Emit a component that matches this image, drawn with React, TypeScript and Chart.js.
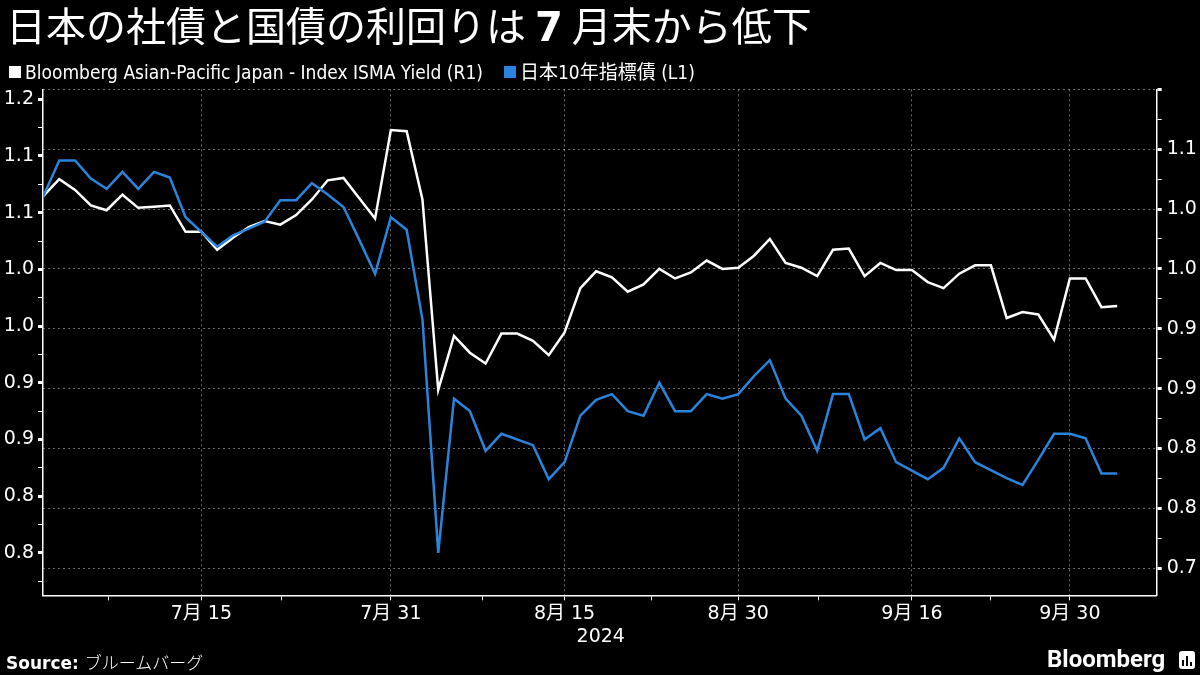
import React, { useEffect, useRef } from 'react';
import { Chart, registerables } from 'chart.js';

Chart.register(...registerables);

const FONT = "'DejaVu Sans', 'Noto Sans CJK JP', sans-serif";
const GRID = 'rgba(255,255,255,0.42)';
const BLUE = '#2b84dc';

// weekdays, 2024-07-01 .. 2024-10-03
const dates = [
    '7/1', '7/2', '7/3', '7/4', '7/5', '7/8', '7/9', '7/10', '7/11', '7/12',
    '7/15', '7/16', '7/17', '7/18', '7/19', '7/22', '7/23', '7/24', '7/25', '7/26',
    '7/29', '7/30', '7/31', '8/1', '8/2', '8/5', '8/6', '8/7', '8/8', '8/9',
    '8/12', '8/13', '8/14', '8/15', '8/16', '8/19', '8/20', '8/21', '8/22', '8/23',
    '8/26', '8/27', '8/28', '8/29', '8/30', '9/2', '9/3', '9/4', '9/5', '9/6',
    '9/9', '9/10', '9/11', '9/12', '9/13', '9/16', '9/17', '9/18', '9/19', '9/20',
    '9/23', '9/24', '9/25', '9/26', '9/27', '9/30', '10/1', '10/2', '10/3',
];

// Bloomberg Asian-Pacific Japan - Index ISMA Yield (R1)
const corpYield = [
    1.061, 1.075, 1.066, 1.053, 1.049, 1.062, 1.051, 1.052, 1.053, 1.031,
    1.031, 1.016, 1.026, 1.035, 1.040, 1.037, 1.045, 1.058, 1.074, 1.076,
    1.059, 1.042, 1.116, 1.115, 1.058, 0.899, 0.944, 0.930, 0.921, 0.946,
    0.946, 0.940, 0.928, 0.947, 0.984, 0.998, 0.993, 0.981, 0.987, 1.000,
    0.992, 0.997, 1.007, 1.000, 1.001, 1.011, 1.025, 1.005, 1.001, 0.994,
    1.016, 1.017, 0.994, 1.005, 0.999, 0.999, 0.989, 0.984, 0.996, 1.003,
    1.003, 0.959, 0.964, 0.962, 0.941, 0.992, 0.992, 0.968, 0.969,
];

// 日本10年指標債 (L1), null = holiday
const jgb10y = [
    1.115, 1.146, 1.146, 1.130, 1.121, 1.136, 1.121, 1.136, 1.131, 1.096,
    null, 1.070, 1.080, 1.086, 1.092, 1.111, 1.111, 1.126, 1.116, 1.105,
    1.076, 1.046, 1.096, 1.085, 1.006, 0.800, 0.936, 0.925, 0.890, 0.905,
    null, 0.895, 0.865, 0.880, 0.921, 0.935, 0.940, 0.925, 0.921, 0.950,
    0.925, 0.925, 0.940, 0.936, 0.940, 0.956, 0.970, 0.936, 0.921, 0.890,
    0.940, 0.940, 0.900, 0.910, 0.880, null, 0.865, 0.875, 0.901, 0.880,
    null, 0.866, 0.860, 0.882, 0.905, 0.905, 0.901, 0.870, 0.870,
];

const xMajorDates = ['7/15', '7/31', '8/15', '8/30', '9/16', '9/30'];
const xMajorLabels = ['7月 15', '7月 31', '8月 15', '8月 30', '9月 16', '9月 30'];
const xMinorTicks = [4.1, 15.1, 27.8, 38.5, 49.1, 60];
const yearLabel = '2024';
const yearAt = '8/15';

const leftMajorTicks = [0.8, 0.85, 0.9, 0.95, 1.0, 1.05, 1.1, 1.15, 1.2];
const leftMajorLabels = ['0.8', '0.8', '0.9', '0.9', '1.0', '1.0', '1.1', '1.1', '1.2'];
const leftMinorTicks = [0.775, 0.825, 0.875, 0.925, 0.975, 1.025, 1.075, 1.125, 1.175];

const rightMajorTicks = [0.75, 0.8, 0.85, 0.9, 0.95, 1.0, 1.05, 1.1, 1.15];
const rightMajorLabels = ['0.7', '0.8', '0.8', '0.9', '0.9', '1.0', '1.0', '1.1', ''];
const rightMinorTicks = [0.775, 0.825, 0.875, 0.925, 0.975, 1.025, 1.075, 1.125];

const findIdx = (list: number[], v: number) => list.findIndex(t => Math.abs(t - v) < 1e-6);

const App: React.FC = () => {
    const canvasRef = useRef<HTMLCanvasElement>(null);

    useEffect(() => {
        document.body.style.margin = '0';
        document.body.style.background = '#000';
        if (!canvasRef.current) return;

        const xMajorIdx = xMajorDates.map(d => dates.indexOf(d));

        const yearPlugin = {
            id: 'yearPlugin',
            afterDraw: (chart: Chart) => {
                const xs = chart.scales.x;
                const ctx = chart.ctx;
                ctx.save();
                ctx.font = `19px ${FONT}`;
                ctx.fillStyle = '#fff';
                ctx.textAlign = 'left';
                ctx.textBaseline = 'middle';
                ctx.fillText(yearLabel, xs.getPixelForValue(dates.indexOf(yearAt)) + 12, chart.chartArea.bottom + 42);
                ctx.restore();
            },
        };

        const chart = new Chart(canvasRef.current, {
            type: 'line',
            data: {
                datasets: [
                    {
                        label: '日本10年指標債 (L1)',
                        data: dates.map((d, i) => ({ x: i, y: jgb10y[i] })),
                        borderColor: BLUE,
                        borderWidth: 2.5,
                        pointRadius: 0,
                        spanGaps: true,
                        yAxisID: 'yL',
                        order: 1,
                    },
                    {
                        label: 'Bloomberg Asian-Pacific Japan - Index ISMA Yield (R1)',
                        data: dates.map((d, i) => ({ x: i, y: corpYield[i] })),
                        borderColor: '#ffffff',
                        borderWidth: 2.5,
                        pointRadius: 0,
                        spanGaps: true,
                        yAxisID: 'yR',
                        order: 2,
                    },
                ],
            },
            options: {
                responsive: false,
                animation: false,
                layout: { padding: { top: 89.3, left: 0, right: 0, bottom: 0 } },
                plugins: { legend: { display: false }, tooltip: { enabled: false } },
                scales: {
                    x: {
                        type: 'linear',
                        bounds: 'data',
                        min: -0.03,
                        max: 70.5,
                        afterFit: (s: any) => { s.height = 79.7; },
                        afterBuildTicks: (s: any) => {
                            s.ticks = [...xMajorIdx, ...xMinorTicks].sort((a, b) => a - b).map(v => ({ value: v }));
                        },
                        ticks: {
                            autoSkip: false,
                            maxRotation: 0,
                            color: '#fff',
                            padding: 2,
                            font: { family: FONT, size: 19 },
                            callback: (v: any) => {
                                const k = xMajorIdx.indexOf(v);
                                return k >= 0 ? xMajorLabels[k] : '';
                            },
                        },
                        grid: {
                            color: (c: any) => (c.tick && xMajorIdx.includes(c.tick.value) ? GRID : 'transparent'),
                            tickColor: '#fff',
                            tickLength: 5,
                            lineWidth: 1,
                        },
                        border: { color: '#fff', width: 1.5, dash: [2, 3] },
                    },
                    yL: {
                        type: 'linear',
                        position: 'left',
                        bounds: 'data',
                        min: 0.7626,
                        max: 1.2088,
                        afterFit: (s: any) => { s.width = 43; },
                        afterBuildTicks: (s: any) => {
                            s.ticks = [...leftMajorTicks, ...leftMinorTicks].sort((a, b) => a - b).map(v => ({ value: v }));
                        },
                        ticks: {
                            autoSkip: false,
                            color: '#fff',
                            padding: 4,
                            font: { family: FONT, size: 19 },
                            callback: (v: any) => {
                                const k = findIdx(leftMajorTicks, v);
                                return k >= 0 ? leftMajorLabels[k] : '';
                            },
                        },
                        grid: {
                            drawOnChartArea: false,
                            tickColor: '#fff',
                            tickLength: 5,
                            tickWidth: (c: any) => (c.tick && findIdx(leftMajorTicks, c.tick.value) >= 0 ? 3 : 1),
                        },
                        border: { color: '#fff', width: 1.5 },
                    },
                    yR: {
                        type: 'linear',
                        position: 'right',
                        bounds: 'data',
                        min: 0.7274,
                        max: 1.15,
                        afterFit: (s: any) => { s.width = 43.3; },
                        afterBuildTicks: (s: any) => {
                            s.ticks = [...rightMajorTicks, ...rightMinorTicks].sort((a, b) => a - b).map(v => ({ value: v }));
                        },
                        ticks: {
                            autoSkip: false,
                            color: '#fff',
                            padding: 5,
                            font: { family: FONT, size: 19 },
                            callback: (v: any) => {
                                const k = findIdx(rightMajorTicks, v);
                                return k >= 0 ? rightMajorLabels[k] : '';
                            },
                        },
                        grid: {
                            color: (c: any) => (c.tick && findIdx(rightMajorTicks, c.tick.value) >= 0 ? GRID : 'transparent'),
                            tickColor: '#fff',
                            tickLength: 5,
                            tickWidth: (c: any) => (c.tick && findIdx(rightMajorTicks, c.tick.value) >= 0 ? 3 : 1),
                            lineWidth: 1,
                        },
                        border: { color: '#fff', width: 1.5, dash: [2, 3] },
                    },
                },
            },
            plugins: [yearPlugin],
        });

        return () => chart.destroy();
    }, []);

    const square = (color: string) => (
        <span style={{ display: 'inline-block', width: 12, height: 12, background: color, marginRight: 4 }}></span>
    );

    return (
        <div style={{ position: 'relative', width: 1200, height: 675, background: '#000', overflow: 'hidden', color: '#fff' }}>
            <canvas ref={canvasRef} width={1200} height={675} style={{ position: 'absolute', left: 0, top: 0 }}></canvas>
            <div style={{ position: 'absolute', left: 6, top: 1, fontFamily: "'Noto Sans CJK JP'", fontSize: 40, lineHeight: '46px', whiteSpace: 'nowrap' }}>
                日本の社債と国債の利回りは <span style={{ fontFamily: "'DejaVu Sans'", fontWeight: 'bold' }}>7</span> 月末から低下
            </div>
            <div style={{ position: 'absolute', left: 9, top: 61, display: 'flex', alignItems: 'center', fontFamily: "'Liberation Sans Narrow', 'DejaVu Sans Condensed', 'Noto Sans CJK JP', sans-serif", fontSize: 19, lineHeight: '22px', whiteSpace: 'nowrap' }}>
                {square('#fff')}
                <span>Bloomberg Asian-Pacific Japan - Index ISMA Yield (R1)</span>
                <span style={{ width: 21 }}></span>
                {square(BLUE)}
                <span>日本10年指標債 (L1)</span>
            </div>
            <div style={{ position: 'absolute', left: 6, top: 649, whiteSpace: 'nowrap', fontSize: 17 }}>
                <span style={{ fontFamily: "'DejaVu Sans'", fontWeight: 'bold' }}>Source: </span>
                <span style={{ fontFamily: "'Noto Sans CJK JP'", fontWeight: 300 }}>ブルームバーグ</span>
            </div>
            <div style={{ position: 'absolute', left: 1047, top: 645, fontFamily: 'Roboto', fontWeight: 'bold', fontSize: 24, whiteSpace: 'nowrap' }}>
                Bloomberg
            </div>
            <div style={{ position: 'absolute', left: 1179, top: 651, width: 16, height: 18, background: '#fff', borderRadius: 3, display: 'flex', alignItems: 'flex-end', justifyContent: 'center', gap: 2, paddingBottom: 3, boxSizing: 'border-box' }}>
                <span style={{ width: 2, height: 6, background: '#000' }}></span>
                <span style={{ width: 2, height: 10, background: '#000' }}></span>
                <span style={{ width: 2, height: 4, background: '#000' }}></span>
            </div>
        </div>
    );
};

export default App;
